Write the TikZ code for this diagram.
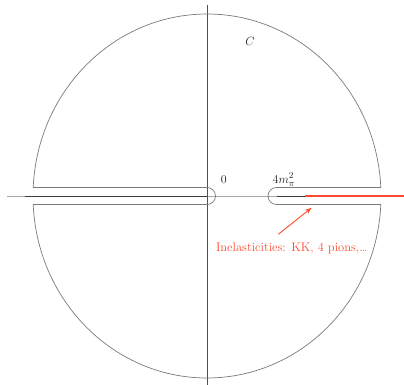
\documentclass[tikz,border=0pt]{standalone}
\usepackage{xcolor}
\usetikzlibrary{arrows.meta}
\definecolor{ink}{HTML}{1E1E1E}
\definecolor{axisgray}{HTML}{505050}
\definecolor{lightaxis}{HTML}{A8A8A8}
\definecolor{contour}{HTML}{7A7A7A}
\definecolor{cutdark}{HTML}{3A3A3A}
\definecolor{inelred}{HTML}{FF4A2E}

\begin{document}
\begin{tikzpicture}[
  x=1pt,y=1pt,
  lab/.style={font=\fontsize{12.5}{14}\selectfont,text=ink,anchor=base,inner sep=0pt},
  axis/.style={draw=axisgray,line width=.6pt},
  cut/.style={draw=cutdark,line width=.85pt},
  contourline/.style={draw=contour,line width=.7pt},
  arrow/.style={-{Stealth[length=2.4mm,width=1.7mm]},draw=inelred,line width=.9pt}
]
\useasboundingbox (-207,-189) rectangle (197,196);

% axes
\draw[axis,draw=lightaxis] (-200,0) -- (197,0);
\draw[axis] (0,191) -- (0,-189);

% branch cuts
\draw[cut] (-182,0) -- (0,0);
\draw[cut] (69.5,0) -- (98,0);
\draw[inelred,line width=1.6pt] (98,0) -- (197,0);

% contour C
\draw[contourline] (69.5,8.5) -- (173.8,8.5)
  arc[start angle=2.68,end angle=177.32,x radius=174,y radius=182]
  -- (0,8.5) arc[start angle=90,end angle=-90,radius=8.5]
  -- (-173.8,-8.5)
  arc[start angle=182.68,end angle=357.32,x radius=174,y radius=182]
  -- (69.5,-8.5) arc[start angle=270,end angle=90,radius=8.5] -- cycle;

% labels
\node[lab] (cname) at (43,150) {$C$};
\node[lab] (zero) at (16.7,12.7) {$0$};
\node[lab] (fourm) at (76.8,12.7) {$4m_\pi^2$};
\node[lab,text=inelred] (inel) at (84.7,-56) {Inelasticities: KK, 4 pions,\dots};

% arrow to the inelastic part of the cut
\coordinate (arrtail) at (71.3,-38.3);
\coordinate (arrtip) at (104.7,-11.7);
\draw[arrow] (arrtail) -- (arrtip);
\end{tikzpicture}
\end{document}
